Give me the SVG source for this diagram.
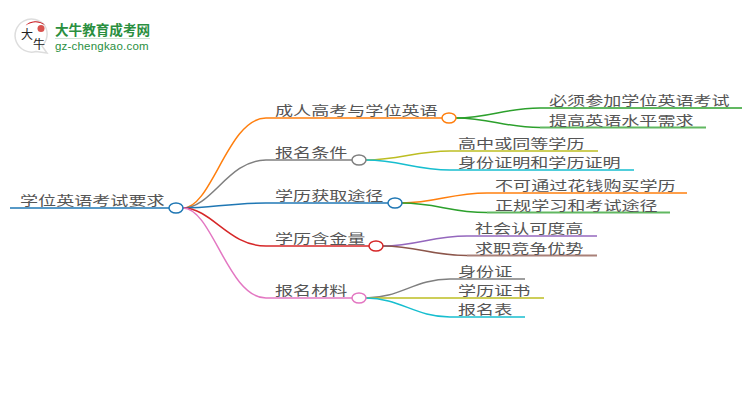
<svg xmlns="http://www.w3.org/2000/svg" width="750" height="410" viewBox="0 0 750 410">
<style>
text{font-family:"Noto Sans CJK SC","Noto Sans",sans-serif;font-size:13px;fill:#555}
.e{fill:none;stroke-width:1.5}
.h{fill:none;stroke-width:2;stroke-opacity:.75}
.n{fill:#fff;stroke-width:1.5}
.or{stroke:#ff7f0e}.gy{stroke:#7f7f7f}.bl{stroke:#1f77b4}.rd{stroke:#d62728}.pk{stroke:#e377c2}
.gn{stroke:#2ca02c}.yl{stroke:#bcbd22}.cy{stroke:#17becf}.pu{stroke:#9467bd}.br{stroke:#8c564b}
</style>
<rect width="750" height="410" fill="#fff"/>
<g id="logo">
<path d="M45 26A16.500 16.500 0 1 0 36 51.500L47 53L42 46A16.500 16.500 0 0 0 45 26Z" fill="#fff" stroke="#ddd" stroke-width="1.500"/>
<path d="M25 26A14 14 0 0 1 45 25Q35 19 25 26Z" fill="#c8161d"/>
<circle cx="41" cy="28.500" r="3.500" fill="#d9534f"/>
<text x="21" y="39" style="font-size:12px;fill:#222">大</text>
<text x="33" y="49" style="font-size:12px;fill:#222">牛</text>
<text x="55" y="35" style="font-size:13.600px;font-weight:700;fill:#2a8f3f">大牛教育成考网</text>
<line x1="55" y1="38.500" x2="150" y2="38.500" stroke="#cfe3d4"/>
<text x="55" y="50" style="font-size:11.500px;font-family:'Liberation Sans',sans-serif;letter-spacing:.2px;fill:#2a8f3f">gz-chengkao.com</text>
</g>
<g id="connectors">
<path class="h bl" d="M10 208H169"/>
<path class="e or" d="M183 208C212 208 228 118 266 118"/><path class="h or" d="M266 118H442"/>
<path class="e gy" d="M183 208C212 208 228 160 266 160"/><path class="h gy" d="M266 160H352"/>
<path class="e bl" d="M183 208C212 208 228 203 266 203"/><path class="h bl" d="M266 203H388"/>
<path class="e rd" d="M183 208C212 208 228 246 266 246"/><path class="h rd" d="M266 246H369"/>
<path class="e pk" d="M183 208C212 208 228 298 266 298"/><path class="h pk" d="M266 298H352"/>
<path class="e gn" d="M456 118C490 118 505 108 540 108"/><path class="h gn" d="M540 108H742"/>
<path class="e gn" d="M456 118C490 118 505 127.500 540 127.500"/><path class="h gn" d="M540 127.500H706"/>
<path class="e yl" d="M366 160C400 160 415 151 450 151"/><path class="h yl" d="M450 151H598"/>
<path class="e cy" d="M366 160C400 160 415 170 450 170"/><path class="h cy" d="M450 170H634"/>
<path class="e or" d="M402 203C436 203 451 193 487 193"/><path class="h or" d="M487 193H687"/>
<path class="e gn" d="M402 203C436 203 451 212.500 487 212.500"/><path class="h gn" d="M487 212.500H670"/>
<path class="e pu" d="M383 246C417 246 432 236 467 236"/><path class="h pu" d="M467 236H597"/>
<path class="e br" d="M383 246C417 246 432 255.500 467 255.500"/><path class="h br" d="M467 255.500H597"/>
<path class="e gy" d="M366 298C400 298 415 279 450 279"/><path class="h gy" d="M450 279H525"/>
<path class="h yl" d="M366 298H544"/>
<path class="e cy" d="M366 298C400 298 415 317 450 317"/><path class="h cy" d="M450 317H525"/>
</g>
<g id="root"><text transform="translate(20 205) scale(1.390 1)">学位英语考试要求</text><ellipse class="n bl" cx="176" cy="208" rx="7" ry="5"/></g>
<g id="n1"><text transform="translate(275 115) scale(1.390 1)">成人高考与学位英语</text><ellipse class="n or" cx="449" cy="118" rx="7" ry="5"/></g>
<g id="n2"><text transform="translate(275 157) scale(1.390 1)">报名条件</text><ellipse class="n gy" cx="359" cy="160" rx="7" ry="5"/></g>
<g id="n3"><text transform="translate(275 200) scale(1.390 1)">学历获取途径</text><ellipse class="n bl" cx="395" cy="203" rx="7" ry="5"/></g>
<g id="n4"><text transform="translate(275 243) scale(1.390 1)">学历含金量</text><ellipse class="n rd" cx="376" cy="246" rx="7" ry="5"/></g>
<g id="n5"><text transform="translate(275 295) scale(1.390 1)">报名材料</text><ellipse class="n pk" cx="359" cy="298" rx="7" ry="5"/></g>
<g id="l1"><text transform="translate(549 105) scale(1.390 1)">必须参加学位英语考试</text></g>
<g id="l2"><text transform="translate(549 124.500) scale(1.390 1)">提高英语水平需求</text></g>
<g id="l3"><text transform="translate(458 148) scale(1.390 1)">高中或同等学历</text></g>
<g id="l4"><text transform="translate(458 167) scale(1.390 1)">身份证明和学历证明</text></g>
<g id="l5"><text transform="translate(495 190) scale(1.390 1)">不可通过花钱购买学历</text></g>
<g id="l6"><text transform="translate(495 209.500) scale(1.390 1)">正规学习和考试途径</text></g>
<g id="l7"><text transform="translate(475 233) scale(1.390 1)">社会认可度高</text></g>
<g id="l8"><text transform="translate(475 252.500) scale(1.390 1)">求职竞争优势</text></g>
<g id="l9"><text transform="translate(458 276) scale(1.390 1)">身份证</text></g>
<g id="l10"><text transform="translate(458 295) scale(1.390 1)">学历证书</text></g>
<g id="l11"><text transform="translate(458 314) scale(1.390 1)">报名表</text></g>
</svg>
